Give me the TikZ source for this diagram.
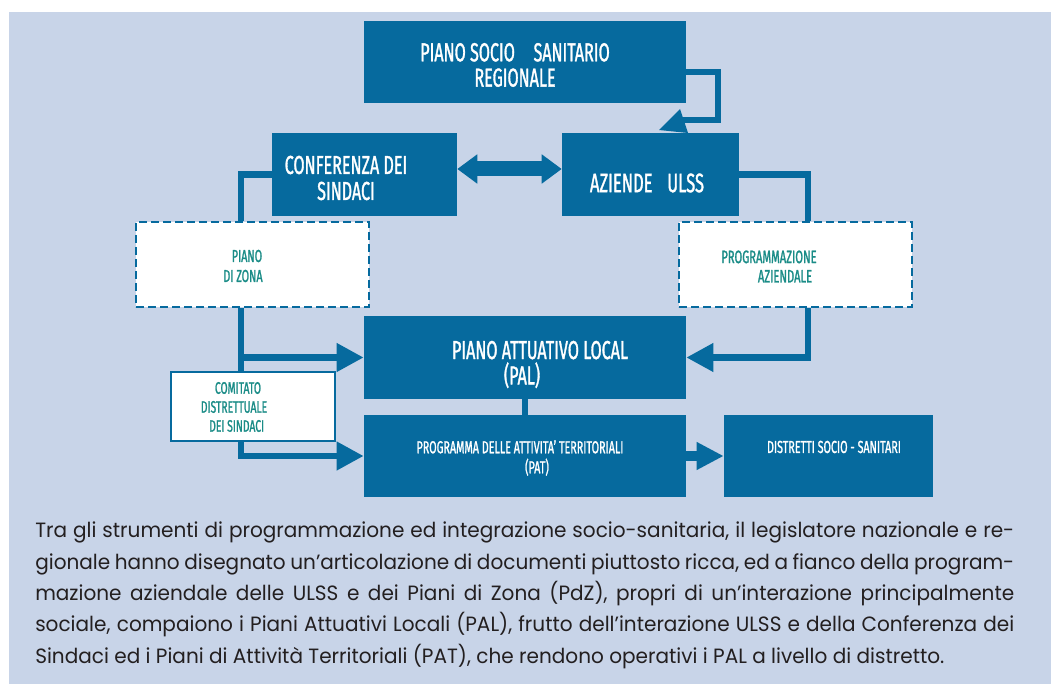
\documentclass[tikz,border=0pt]{standalone}
\usepackage{fontspec}
\usetikzlibrary{arrows.meta}
\newfontfamily\parafont[FakeStretch=0.97]{Poppins}
\newfontfamily\cond[FakeStretch=0.62,FakeBold=1.2]{Fira Sans}
\definecolor{dblue}{HTML}{066A9E}
\definecolor{bgblue}{HTML}{C8D4E8}
\definecolor{teal2}{HTML}{1A8C87}
\definecolor{ptext}{HTML}{231F20}
\tikzset{
  bluebox/.style={draw=none,fill=dblue,rectangle,inner sep=0pt},
  dashbox/.style={draw=dblue,fill=white,rectangle,inner sep=0pt,line width=1.9pt,dash pattern=on 6pt off 3pt},
  solidbox/.style={draw=dblue,fill=white,rectangle,inner sep=0pt,line width=1.6pt},
  wlabel/.style={text=white,font=\cond,align=center,inner sep=0pt},
  tlabel/.style={text=teal2,font=\cond,align=center,inner sep=0pt},
  conn/.style={draw=dblue,line width=5.2pt},
  connarrow/.style={conn,-{Triangle[length=20.25pt,width=20.25pt]}},
}
\begin{document}
\begin{tikzpicture}[x=0.75pt,y=-0.75pt]
\useasboundingbox (0,0) rectangle (1051,684);
\fill[bgblue] (9,12) rectangle (1051,684);
% boxes
\node[bluebox,minimum width=241.5pt,minimum height=61.5pt] (pssr) at (525,62) {};
\node[bluebox,minimum width=138.75pt,minimum height=62.25pt] (conf) at (364.5,174.5) {};
\node[bluebox,minimum width=132.75pt,minimum height=62.25pt] (az) at (650.5,174.5) {};
\node[dashbox,minimum width=174.75pt,minimum height=63.75pt] (pdz) at (252.5,264.5) {};
\node[dashbox,minimum width=174.75pt,minimum height=63.75pt] (prog) at (795.5,264.5) {};
\node[bluebox,minimum width=241.5pt,minimum height=62.25pt] (pal) at (525,357.5) {};
\node[bluebox,minimum width=241.5pt,minimum height=61.5pt] (pat) at (525,456) {};
\node[bluebox,minimum width=156.75pt,minimum height=61.5pt] (dist) at (828.5,456) {};
% connector coordinates
\coordinate (lx) at (241,0);
\coordinate (rx) at (808,0);
\coordinate (da) at (0,169);
\coordinate (fb1) at (718,72);
\coordinate (fb2) at (718,120);
\coordinate (fb3) at (683,120);
% feedback connector from PSSR
\draw[draw=dblue,line width=3.8pt] (pssr.east |- fb1) -- (fb1) -- (fb2) -- (fb3);
\fill[dblue] (680,109) -- (659,130) -- (688,133) -- cycle;
% double arrow
\draw[draw=dblue,line width=11.25pt,{Triangle[length=15pt,width=21pt]}-{Triangle[length=15pt,width=21pt]}] (conf.east |- da) -- (az.west |- da);
% left side
\draw[conn] (conf.west) -| (lx |- pdz.north);
\node[solidbox,minimum width=123pt,minimum height=51.75pt] (com) at (253,406.5) {};
\draw[conn] (lx |- pdz.south) -- (lx |- com.north);
\draw[connarrow] (lx |- pal.west) -- (pal.west);
\draw[conn,-{Triangle[length=20.25pt,width=20.25pt]}] (lx |- com.south) |- (pat.west);
% right side
\draw[conn] (az.east) -| (rx |- prog.north);
\draw[connarrow] (rx |- prog.south) |- (pal.east);
% PAL to PAT
\draw[conn] (pal.south) -- (pat.north);
% PAT to DIST
\draw[draw=dblue,line width=7.5pt,-{Triangle[length=20.25pt,width=19.5pt]}] (pat.east) -- (dist.west);
% labels
\node[wlabel,font=\cond\fontsize{19.5}{19}\selectfont] (pssrt) at (515,65) {PIANO SOCIO\hspace{14pt}SANITARIO\\REGIONALE};
\node[wlabel,font=\cond\fontsize{19.5}{19.5}\selectfont] (conft) at (346,178) {CONFERENZA DEI\\SINDACI};
\node[wlabel,font=\cond\fontsize{20}{20}\selectfont] (azt) at (647,183) {AZIENDE\hspace{11pt}ULSS};
\node[tlabel,font=\cond\fontsize{13}{15}\selectfont] (pdzt) at (243,266) {\hspace*{6pt}PIANO\\DI ZONA};
\node[tlabel,font=\cond\fontsize{13.5}{14.5}\selectfont] (progt) at (781,266.5) {\hspace*{-18pt}PROGRAMMAZIONE\\\hspace*{6pt}AZIENDALE};
\node[wlabel,font=\cond\fontsize{19.5}{19}\selectfont] (palt) at (540,364.5) {PIANO ATTUATIVO LOCAL\\\hspace*{-27pt}(PAL)};
\node[tlabel,font=\cond\fontsize{12.5}{14.25}\selectfont] (comt) at (234,407) {\hspace*{6pt}COMITATO\\DISTRETTUALE\\\hspace*{4pt}DEI SINDACI};
\node[wlabel,font=\cond\fontsize{13}{15}\selectfont] (patt) at (520,458) {PROGRAMMA DELLE ATTIVITA’ TERRITORIALI\\\hspace*{25.5pt}(PAT)};
\node[wlabel,font=\cond\fontsize{13}{15}\selectfont] (distt) at (834,447) {DISTRETTI SOCIO - SANITARI};
% paragraph
\node[anchor=base west,inner sep=0pt,text=ptext] (para) at (35,538) {\parbox[t]{734.25pt}{\parafont\fontsize{15.5}{23.5}\selectfont
Tra gli strumenti di programmazione ed integrazione socio-sanitaria, il legislatore nazionale e re-\linebreak
gionale hanno disegnato un’articolazione di documenti piuttosto ricca, ed a fianco della program-\linebreak
mazione aziendale delle ULSS e dei Piani di Zona (PdZ), propri di un’interazione principalmente\linebreak
sociale, compaiono i Piani Attuativi Locali (PAL), frutto dell’interazione ULSS e della Conferenza dei\linebreak
Sindaci ed i Piani di Attività Territoriali (PAT), che rendono operativi i PAL a livello di distretto.}};
\end{tikzpicture}
\end{document}
